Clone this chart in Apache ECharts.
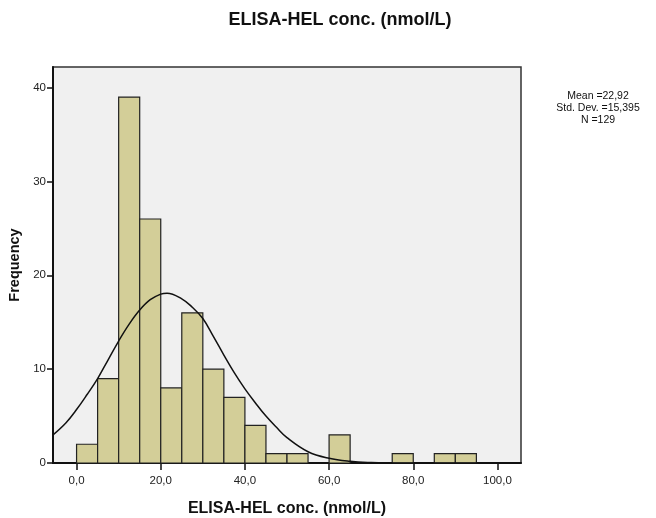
<!DOCTYPE html>
<html>
<head>
<meta charset="utf-8">
<script src="https://cdn.jsdelivr.net/npm/echarts@6/dist/echarts.min.js"></script>
<style>
  html, body { margin: 0; padding: 0; background: #fff; }
  #hist { width: 656px; height: 518px; }
</style>
</head>
<body>
<div id="hist"></div>
<script>
// histogram bins (width 5) and their counts
var binStarts = [0, 5, 10, 15, 20, 25, 30, 35, 40, 45, 50, 55, 60, 65, 70, 75, 80, 85, 90];
var binWidth = 5;
var counts = [2, 9, 39, 26, 8, 16, 10, 7, 4, 1, 1, 0, 3, 0, 0, 1, 0, 1, 1];

// normal curve
var curveX = [-5.6, -2.5, 0, 2.5, 5, 7.5, 10, 12.5, 15, 17.5, 20, 21.5, 25, 27.5, 30, 32.5, 35, 37.5, 40, 42.5, 45, 47.5, 50, 55, 60, 65, 70, 75, 80, 90, 105.6];
var curveY = [3.0, 4.3, 5.7, 7.3, 9.0, 11.0, 13.0, 14.8, 16.3, 17.4, 18.0, 18.1, 17.5, 16.6, 15.4, 13.5, 11.5, 9.6, 7.9, 6.4, 5.0, 3.8, 2.7, 1.2, 0.5, 0.18, 0.05, 0.01, 0, 0, 0];

var xTicks = [0, 20, 40, 60, 80, 100];
var yTicks = [0, 10, 20, 30, 40];
var statsLines = ['Mean =22,92', 'Std. Dev. =15,395', 'N =129'];

var font = 'Liberation Sans, Arial, sans-serif';

var barData = binStarts.map(function (s, i) { return [s, s + binWidth, counts[i]]; });
var lineData = curveX.map(function (x, i) { return [x, curveY[i]]; });

var myChart = echarts.init(document.getElementById('hist'));
var option = {
	animation: false,
	grid: {
		left: 53, top: 67, width: 468, height: 396,
		outerBoundsMode: 'none',
		containLabel: false,
		show: true,
		backgroundColor: '#F0F0F0',
		borderColor: '#333',
		borderWidth: 1.5
	},
	xAxis: {
		type: 'value',
		min: -5.6,
		max: 105.6,
		name: 'ELISA-HEL conc. (nmol/L)',
		nameLocation: 'middle',
		nameGap: 38,
		nameTextStyle: { fontFamily: font, fontSize: 16, fontWeight: 'bold', color: '#111' },
		axisLine: { onZero: false, lineStyle: { color: '#111', width: 2 } },
		axisTick: { show: true, length: 7, customValues: xTicks, lineStyle: { color: '#111', width: 1.5 } },
		axisLabel: {
			customValues: xTicks,
			margin: 12,
			fontFamily: font, fontSize: 11.5, color: '#222',
			formatter: function (v) { return v.toFixed(1).replace('.', ','); }
		},
		splitLine: { show: false }
	},
	yAxis: {
		type: 'value',
		min: 0,
		max: 42.2,
		name: 'Frequency',
		nameLocation: 'middle',
		nameGap: 21,
		nameTextStyle: { fontFamily: font, fontSize: 14.5, fontWeight: 'bold', color: '#111' },
		axisLine: { show: true, onZero: false, lineStyle: { color: '#111', width: 2 } },
		axisTick: { show: true, length: 6, customValues: yTicks, lineStyle: { color: '#111', width: 1.5 } },
		axisLabel: { customValues: yTicks, margin: 7, fontFamily: font, fontSize: 11.5, color: '#222' },
		splitLine: { show: false }
	},
	graphic: [{
		type: 'text',
		style: {
			x: 340, y: 20,
			text: 'ELISA-HEL conc. (nmol/L)',
			fontFamily: font, fontSize: 18, fontWeight: 'bold',
			align: 'center', verticalAlign: 'middle',
			fill: '#111'
		}
	}, {
		type: 'text',
		style: {
			x: 598, y: 90,
			text: statsLines.join('\n'),
			fontFamily: font,
			fontSize: 10.5,
			lineHeight: 12,
			align: 'center',
			fill: '#111'
		}
	}],
	series: [{
		type: 'custom',
		data: barData,
		encode: { x: [0, 1], y: 2 },
		renderItem: function (params, api) {
			if (api.value(2) <= 0) return;
			var tl = api.coord([api.value(0), api.value(2)]);
			var br = api.coord([api.value(1), 0]);
			return {
				type: 'rect',
				shape: { x: tl[0], y: tl[1], width: br[0] - tl[0], height: br[1] - tl[1] },
				style: { fill: '#D3CE98', stroke: '#222', lineWidth: 1.2 }
			};
		}
	}, {
		type: 'line',
		data: lineData,
		smooth: 0.4,
		symbol: 'none',
		clip: true,
		lineStyle: { color: '#111', width: 1.5 },
		z: 5
	}]
};
myChart.setOption(option);
</script>
</body>
</html>
